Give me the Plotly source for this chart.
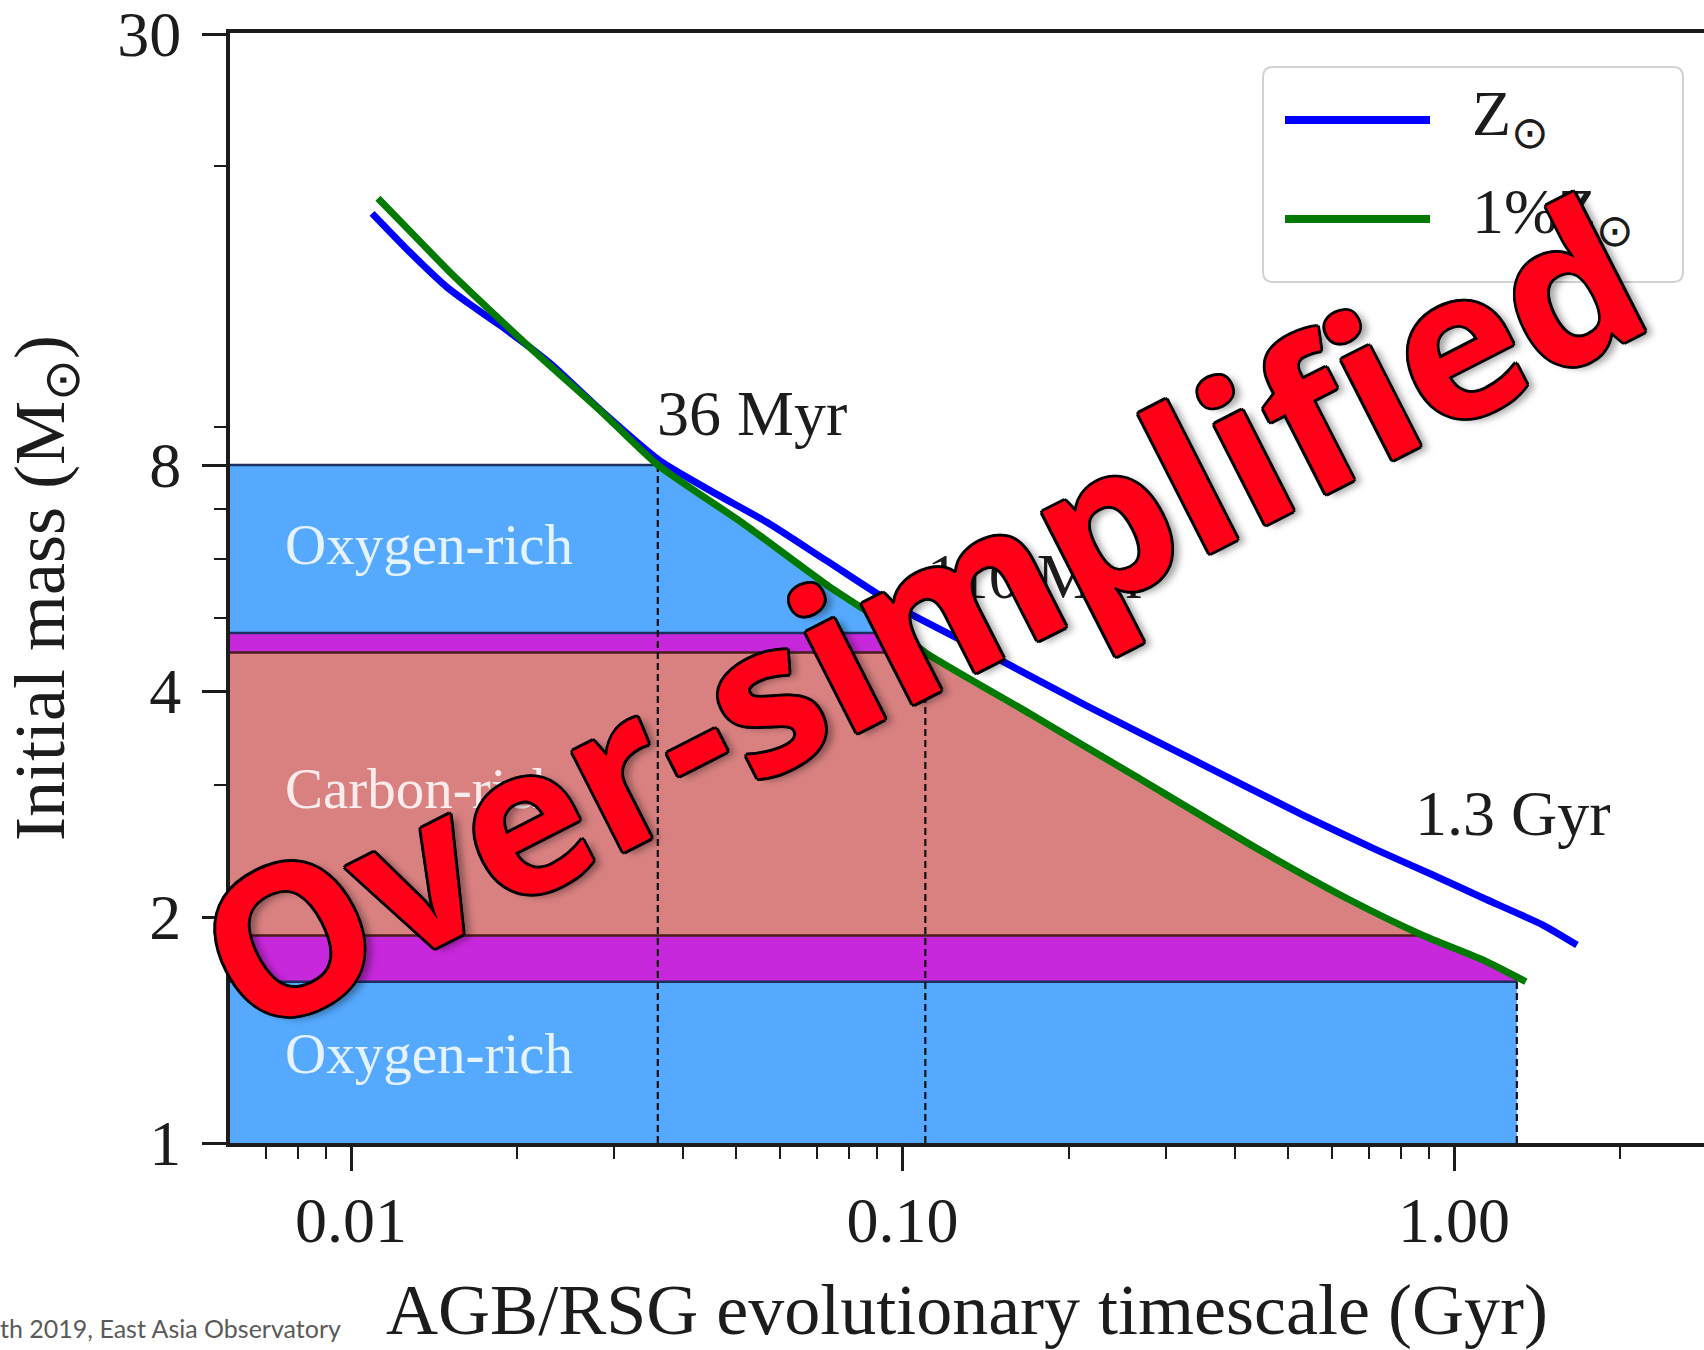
import math
import plotly.graph_objects as go

# ---------------------------------------------------------------------------
# Data
# ---------------------------------------------------------------------------
# AGB/RSG evolutionary timescale (Gyr) against initial mass (Msun)
t_solar = [0.01092, 0.01279, 0.01493, 0.01623, 0.01863, 0.02295, 0.02828,
           0.03634, 0.04609, 0.05679, 0.07267, 0.0998, 0.1502, 0.2161,
           0.3391, 0.5346, 0.7252, 0.9160, 1.129, 1.450, 1.671]
m_solar = [17.31, 15.36, 13.80, 13.18, 12.28, 10.93, 9.48,
           8.10, 7.31, 6.71, 5.97, 5.14, 4.40, 3.82,
           3.23, 2.73, 2.455, 2.275, 2.12, 1.951, 1.835]

t_low = [0.01119, 0.01300, 0.01512, 0.01786, 0.02138, 0.02828, 0.036,
         0.05138, 0.07387, 0.099, 0.110, 0.1703, 0.2586, 0.4447,
         0.6477, 0.879, 1.129, 1.35]
m_low = [18.13, 16.19, 14.45, 12.86, 11.37, 9.46, 8.0,
         6.69, 5.50, 4.78, 4.50, 3.73, 3.11, 2.455,
         2.107, 1.89, 1.753, 1.64]

# Chemistry bands (Msun), bottom to top
band_edges = [1.0, 1.64, 1.89, 4.5, 4.78, 8.0]
band_kind = ["O", "OC", "C", "OC", "O"]

# Region labels
region_text = ["Oxygen-rich", "Carbon-rich", "Oxygen-rich"]
region_t = [0.00753, 0.00753, 0.00753]
region_m = [1.314, 2.97, 6.26]

# Lifetime markers
mark_t = [0.036, 0.11, 1.3]
mark_m = [8.0, 4.5, 1.64]
mark_text = ["36 Myr", "110 Myr", "1.3 Gyr"]
mark_text_t = [0.0356, 0.110, 0.843]
mark_text_m = [9.38, 5.69, 2.75]

# Axis ticks
x_major = [0.01, 0.1, 1.0]
x_major_text = ["0.01", "0.10", "1.00"]
x_minor = [0.006, 0.007, 0.008, 0.009,
           0.02, 0.03, 0.04, 0.05, 0.06, 0.07, 0.08, 0.09,
           0.2, 0.3, 0.4, 0.5, 0.6, 0.7, 0.8, 0.9, 2.0]
y_major = [1, 2, 4, 8, 30]
y_major_text = ["1", "2", "4", "8", "30"]
y_minor = [3, 5, 6, 7, 9, 20]

# ---------------------------------------------------------------------------
# Styling
# ---------------------------------------------------------------------------
W, H = 1704, 1350
ML, MR, MT, MB = 230, 0, 33, 207
PW, PH = W - ML - MR, H - MT - MB

SERIF = "Liberation Serif, Times New Roman, serif"
INK = "#1c1c1c"
FILL = {"O": "#55AAFF", "C": "#D98181", "OC": "#C828DC"}
EDGE = {"O": "#1d2f5e", "C": "#4a1c1c"}
X_LEFT = 0.003  # fills start beyond the left edge of the axes


def px_x(p):
    return (p - ML) / PW


def px_y(p):
    return (H - MB - p) / PH


def low_t_at(m):
    for tv, mv in zip(t_low, m_low):
        if abs(mv - m) < 1e-9:
            return tv
    return None


fig = go.Figure()

# Filled chemistry bands, bounded on the right by the 1% Z_sun track
for i, kind in enumerate(band_kind):
    lo, hi = band_edges[i], band_edges[i + 1]
    if i == 0:
        xs = [X_LEFT, mark_t[2], mark_t[2], X_LEFT]
        ys = [hi, hi, lo, lo]
    else:
        pts = [(tv, mv) for tv, mv in zip(t_low, m_low) if lo - 1e-9 <= mv <= hi + 1e-9]
        pts.sort(key=lambda p: -p[1])
        xs = [X_LEFT] + [p[0] for p in pts] + [X_LEFT]
        ys = [hi] + [p[1] for p in pts] + [lo]
    fig.add_trace(go.Scatter(
        x=xs, y=ys, mode="lines", fill="toself", fillcolor=FILL[kind],
        line=dict(width=0), hoverinfo="skip", showlegend=False))

# Band boundary lines
for j in range(1, len(band_edges)):
    m = band_edges[j]
    below = band_kind[j - 1]
    above = band_kind[j] if j < len(band_kind) else "O"
    kind = below if below != "OC" else above
    t_right = low_t_at(m)
    if m == band_edges[1]:
        t_right = mark_t[2]
    fig.add_trace(go.Scatter(
        x=[X_LEFT, t_right], y=[m, m], mode="lines",
        line=dict(color=EDGE[kind], width=2.5),
        hoverinfo="skip", showlegend=False))

# Dashed lifetime markers
for tv, mv in zip(mark_t, mark_m):
    fig.add_trace(go.Scatter(
        x=[tv, tv], y=[1.0, mv], mode="lines",
        line=dict(color="#111111", width=2.2, dash="7px,4px"),
        hoverinfo="skip", showlegend=False))

# Evolutionary tracks
fig.add_trace(go.Scatter(
    x=t_solar, y=m_solar, mode="lines", name="Z<sub>⊙</sub>",
    line=dict(color="#0000FF", width=7, shape="spline", smoothing=0.6),
    showlegend=False))
fig.add_trace(go.Scatter(
    x=t_low, y=m_low, mode="lines", name="1%Z<sub>⊙</sub>",
    line=dict(color="#007A00", width=7, shape="spline", smoothing=0.6),
    showlegend=False))

annotations = []

# Region labels
for txt, tv, mv in zip(region_text, region_t, region_m):
    annotations.append(dict(
        x=math.log10(tv), y=math.log10(mv), xref="x", yref="y",
        text=txt, showarrow=False, xanchor="left", yanchor="middle",
        font=dict(family=SERIF, size=57, color="rgba(255,255,255,0.85)")))

# Lifetime labels
for txt, tv, mv in zip(mark_text, mark_text_t, mark_text_m):
    annotations.append(dict(
        x=math.log10(tv), y=math.log10(mv), xref="x", yref="y",
        text=txt, showarrow=False, xanchor="left", yanchor="middle",
        font=dict(family=SERIF, size=64, color=INK)))

# Legend (drawn by hand for long line samples and rounded frame)
lg_l, lg_r, lg_t, lg_b = px_x(1263), px_x(1683), px_y(67), px_y(282)
rx, ry = 10 / PW, 10 / PH
legend_path = (
    f"M {lg_l + rx},{lg_t} L {lg_r - rx},{lg_t} Q {lg_r},{lg_t} {lg_r},{lg_t - ry} "
    f"L {lg_r},{lg_b + ry} Q {lg_r},{lg_b} {lg_r - rx},{lg_b} "
    f"L {lg_l + rx},{lg_b} Q {lg_l},{lg_b} {lg_l},{lg_b + ry} "
    f"L {lg_l},{lg_t - ry} Q {lg_l},{lg_t} {lg_l + rx},{lg_t} Z"
)
shapes = [
    dict(type="path", xref="paper", yref="paper", path=legend_path,
         fillcolor="rgba(255,255,255,0.85)", line=dict(color="#d2d2d2", width=2),
         layer="above"),
    dict(type="line", xref="paper", yref="paper",
         x0=px_x(1285), x1=px_x(1430), y0=px_y(120), y1=px_y(120),
         line=dict(color="#0000FF", width=8), layer="above"),
    dict(type="line", xref="paper", yref="paper",
         x0=px_x(1285), x1=px_x(1430), y0=px_y(219), y1=px_y(219),
         line=dict(color="#007A00", width=8), layer="above"),
]
for txt, yy in [("Z<sub>⊙</sub>", 118), ("1%Z<sub>⊙</sub>", 216)]:
    annotations.append(dict(
        x=px_x(1470), y=px_y(yy), xref="paper", yref="paper",
        text=txt, showarrow=False, xanchor="left", yanchor="middle",
        font=dict(family=SERIF, size=64, color=INK)))

# Source line
annotations.append(dict(
    x=px_x(343), y=px_y(1328), xref="paper", yref="paper",
    text="th 2019, East Asia Observatory", showarrow=False,
    xanchor="right", yanchor="middle",
    font=dict(family="Lato, sans-serif", size=25, color="#5a5a5a")))

# Overlay stamp: red lettering with a thin black outline and soft drop shadow
outline = ", ".join(
    f"{dx}px {dy}px 0 #000" for dx, dy in
    [(3, 0), (-3, 0), (0, 3), (0, -3), (2, 2), (-2, -2), (2, -2), (-2, 2)]
) + ", 6px 6px 7px rgba(0,0,0,0.35)"
annotations.append(dict(
    x=px_x(918), y=px_y(612), xref="paper", yref="paper",
    text="Over-simplified", showarrow=False, textangle=-27,
    xanchor="center", yanchor="middle",
    font=dict(family="Open Sans, sans-serif", size=206, weight=700,
              color="#FF0018", shadow=outline)))

axis_common = dict(
    type="log", showgrid=False, zeroline=False,
    showline=True, linewidth=4, linecolor=INK,
    ticks="outside", ticklen=24, tickwidth=3, tickcolor=INK,
    tickfont=dict(family=SERIF, size=64, color=INK),
    ticklabeloverflow="allow",
    automargin=False,
)

fig.update_layout(
    width=W, height=H,
    margin=dict(l=ML, r=MR, t=MT, b=MB, pad=0),
    paper_bgcolor="white", plot_bgcolor="white",
    showlegend=False,
    xaxis=dict(
        **axis_common,
        range=[-2.2194, 0.4533], mirror=True,
        tickmode="array", tickvals=x_major, ticktext=x_major_text,
        ticklabelstandoff=-6,
        minor=dict(tickmode="array", tickvals=x_minor, ticks="outside",
                   ticklen=12, tickwidth=2, tickcolor=INK),
        title=dict(text="AGB/RSG evolutionary timescale (Gyr)",
                   font=dict(family=SERIF, size=72, color=INK), standoff=30),
    ),
    yaxis=dict(
        **axis_common,
        range=[0, 1.4785], mirror=False,
        tickmode="array", tickvals=y_major, ticktext=y_major_text,
        ticklabelstandoff=8,
        minor=dict(tickmode="array", tickvals=y_minor, ticks="outside",
                   ticklen=12, tickwidth=2, tickcolor=INK),
        title=dict(text="Initial mass (M<sub>⊙</sub>)",
                   font=dict(family=SERIF, size=72, color=INK), standoff=54),
    ),
    shapes=shapes,
    annotations=annotations,
)

fig.write_html("out.html")
